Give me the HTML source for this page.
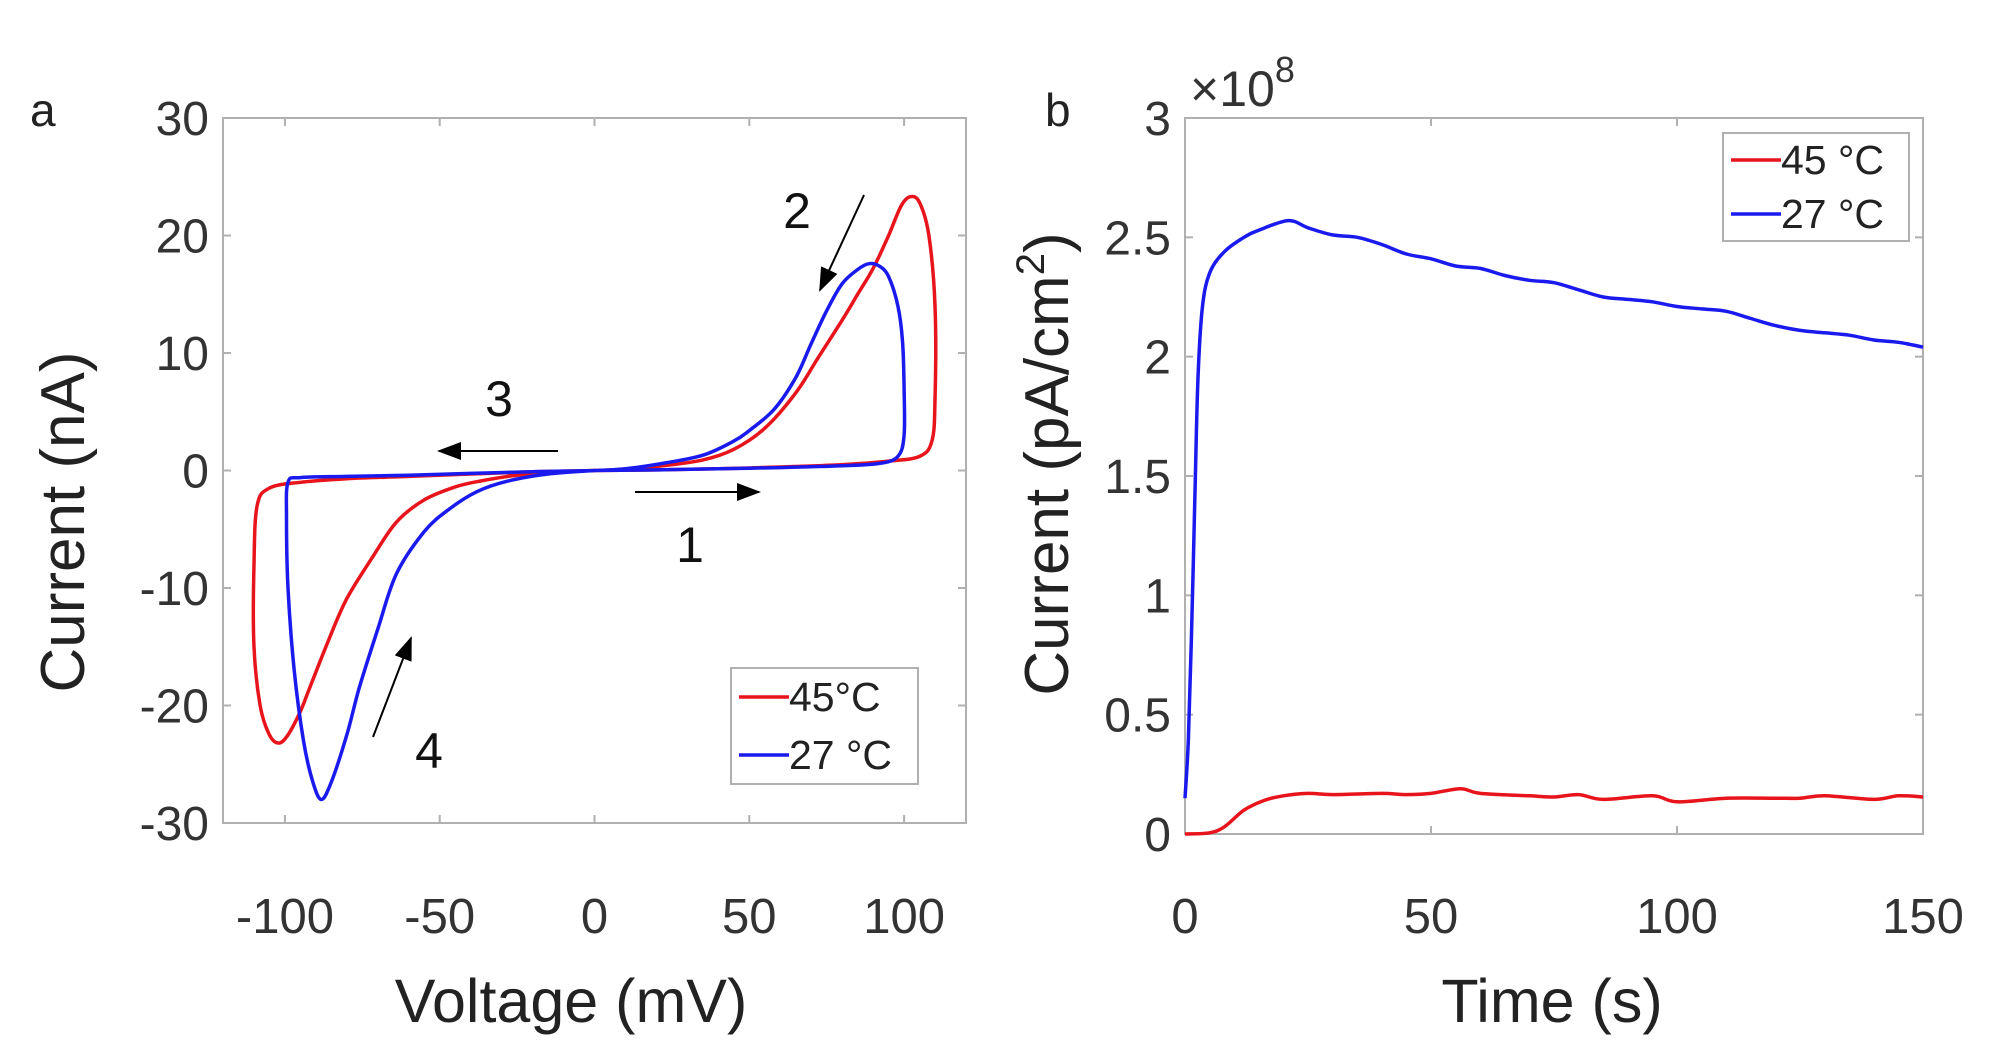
<!DOCTYPE html>
<html><head><meta charset="utf-8"><style>
html,body{margin:0;padding:0;background:#fff;}
svg{display:block;font-family:"Liberation Sans",sans-serif;}
</style></head><body>
<svg id="fig" width="2000" height="1049" viewBox="0 0 2000 1049" xmlns="http://www.w3.org/2000/svg">
<defs>
<marker id="ah2" markerWidth="24" markerHeight="18" refX="22" refY="9" orient="auto" markerUnits="userSpaceOnUse"><path d="M0,0 L24,9 L0,18 z" fill="#000"/></marker></defs>
<g id="pa"></g>
<g id="pb"></g>
</svg>
<script>
// Panel a: cyclic voltammetry
const cvTicksX=[-100,-50,0,50,100];
const cvTicksY=[-30,-20,-10,0,10,20,30];
const red45V=[0,20,40,60,80,95,105,109,110,110,108,105,102,99,95,90,85,80,72,65,55,45,35,22,10,0,-20,-40,-60,-80,-95,-105,-109,-110,-110,-108,-105,-102,-99,-95,-92,-86,-80,-72,-64,-55,-45,-37,-25,-10,0];
const red45I=[0,0.05,0.15,0.3,0.5,0.8,1.2,2.5,6,14,20,22.8,23.3,22.5,20,17.2,15,12.8,9.5,6.6,3.6,1.8,0.9,0.4,0.1,0,-0.1,-0.3,-0.5,-0.7,-1.0,-1.5,-3,-8,-15,-20,-22.5,-23.2,-22.5,-20.5,-18.5,-14.5,-10.9,-7.5,-4.4,-2.5,-1.4,-0.9,-0.4,-0.1,0];
const blue27V=[0,20,40,60,80,92,98,100,100,99.5,98,95,92,88.6,85,80,75,70,65,58,50,45,35,22,10,0,-20,-40,-60,-80,-95,-99,-99.5,-99,-97,-94,-91,-88.2,-85,-80,-76,-70,-64,-55,-47,-38,-28,-15,0];
const blue27I=[0,0.05,0.15,0.25,0.4,0.6,1.2,3,7,11,14,16.5,17.4,17.6,17.1,15.9,13.6,10.8,7.9,5.2,3.4,2.5,1.3,0.6,0.15,0,-0.1,-0.25,-0.4,-0.5,-0.6,-1,-4,-10,-17,-23,-26.5,-28,-26.5,-22.5,-18.5,-13.5,-8.8,-5.2,-3.3,-1.8,-0.9,-0.3,0];
// Panel b: current vs time
const tTicksX=[0,50,100,150];
const tTicksY=[0,0.5,1,1.5,2,2.5,3];
const tBlue=[0,0.7,1.3,2,2.6,3.5,5,8,12,15,21,25,30,35,40,45,50,55,60,65,70,75,80,85,90,95,100,105,110,115,120,125,130,135,140,145,150];
const iBlue=[0.15,0.4,0.82,1.4,1.89,2.2,2.35,2.44,2.5,2.53,2.57,2.54,2.51,2.5,2.47,2.43,2.41,2.38,2.37,2.34,2.32,2.31,2.28,2.25,2.24,2.23,2.21,2.2,2.19,2.16,2.13,2.11,2.1,2.09,2.07,2.06,2.04];
const tRed=[0,5,8,12,16,20,25,30,40,45,50,56,60,70,75,80,85,95,100,110,120,125,130,140,145,150];
const iRed=[0,0.005,0.03,0.1,0.14,0.16,0.17,0.165,0.17,0.165,0.17,0.19,0.17,0.16,0.155,0.165,0.145,0.16,0.135,0.15,0.15,0.15,0.16,0.145,0.16,0.155];

const NS="http://www.w3.org/2000/svg";
function mk(parent,tag,attrs,text){const e=document.createElementNS(NS,tag);for(const k in attrs)e.setAttribute(k,attrs[k]);if(text!==undefined)e.textContent=text;parent.appendChild(e);return e;}

function axes(g,L,R,T,B,xmin,xmax,ymin,ymax,xt,yt){
  const sx=v=>L+(v-xmin)/(xmax-xmin)*(R-L);
  const sy=v=>B-(v-ymin)/(ymax-ymin)*(B-T);
  const box=mk(g,'rect',{x:L,y:T,width:R-L,height:B-T,fill:'none',stroke:'#b0b0b0','stroke-width':2});
  
  
  xt.forEach(v=>{
    mk(g,'line',{x1:sx(v),x2:sx(v),y1:B,y2:B-8,stroke:'#b0b0b0','stroke-width':2});
    mk(g,'line',{x1:sx(v),x2:sx(v),y1:T,y2:T+8,stroke:'#b0b0b0','stroke-width':2});
    const t=mk(g,'text',{x:sx(v),y:933,'text-anchor':'middle','font-size':49,fill:'#333'},String(v));
    
    
  });
  yt.forEach(v=>{
    mk(g,'line',{x1:L,x2:L+8,y1:sy(v),y2:sy(v),stroke:'#b0b0b0','stroke-width':2});
    mk(g,'line',{x1:R,x2:R-8,y1:sy(v),y2:sy(v),stroke:'#b0b0b0','stroke-width':2});
    const t=mk(g,'text',{x:L-14,y:sy(v)+17,'text-anchor':'end','font-size':48,fill:'#333'},String(v));
    
    
  });
  return [sx,sy];
}
function line(g,xs,ys,sx,sy,color,name){
  const P=xs.map((x,i)=>[sx(x),sy(ys[i])]);
  let d='M'+P[0][0].toFixed(1)+','+P[0][1].toFixed(1);
  for(let i=0;i<P.length-1;i++){
    const p0=P[Math.max(0,i-1)],p1=P[i],p2=P[i+1],p3=P[Math.min(P.length-1,i+2)];
    const c1=[p1[0]+(p2[0]-p0[0])/6,p1[1]+(p2[1]-p0[1])/6];
    const c2=[p2[0]-(p3[0]-p1[0])/6,p2[1]-(p3[1]-p1[1])/6];
    d+=' C'+c1[0].toFixed(1)+','+c1[1].toFixed(1)+' '+c2[0].toFixed(1)+','+c2[1].toFixed(1)+' '+p2[0].toFixed(1)+','+p2[1].toFixed(1);
  }
  const p=mk(g,'path',{d:d,fill:'none',stroke:color,'stroke-width':3.5,'stroke-linejoin':'round'});
  
  
}
function legend(g,x,y,w,h,labels){
  const r=mk(g,'rect',{x:x,y:y,width:w,height:h,fill:'#fff',stroke:'#b0b0b0','stroke-width':2});
  
  
  labels.forEach((l,i)=>{
    const cy=y+h*(i*2+1)/4;
    mk(g,'line',{x1:x+8,x2:x+58,y1:cy,y2:cy,stroke:l[1],'stroke-width':3.5});
    const t=mk(g,'text',{x:x+58,y:cy+14,'font-size':41,fill:'#222'},l[0]);
    
    
  });
}
const ga=document.getElementById('pa');
const [ax,ay]=axes(ga,223,966,118,823,-120,120,-30,30,cvTicksX,cvTicksY);
line(ga,red45V,red45I,ax,ay,'#e8141b','cv-45c');
line(ga,blue27V,blue27I,ax,ay,'#1a1aee','cv-27c');
legend(ga,731,668,187,116,[['45°C','#e8141b'],['27 °C','#1a1aee']]);
let t=mk(ga,'text',{x:571,y:1022,'text-anchor':'middle','font-size':61,fill:'#222'},'Voltage (mV)');

t=mk(ga,'text',{x:0,y:0,'text-anchor':'middle','font-size':62,fill:'#222',transform:'translate(84,522) rotate(-90)'},'Current (nA)');

t=mk(ga,'text',{x:30,y:126,'font-size':46,fill:'#222'},'a');

[['2',797,228,864,195,820,290],['3',499,416,558,451,439,451],['1',690,562,635,492,759,492],['4',429,768,373,737,411,638]].forEach(a=>{
  const tx=mk(ga,'text',{x:a[1],y:a[2],'text-anchor':'middle','font-size':50,fill:'#111'},a[0]);
  
  const ln=mk(ga,'line',{x1:a[3],y1:a[4],x2:a[5],y2:a[6],stroke:'#000','stroke-width':2,'marker-end':'url(#ah2)'});
  
});

const gb=document.getElementById('pb');
const [bx,by]=axes(gb,1185,1923,118,834,0,150,0,3,tTicksX,tTicksY);
line(gb,tRed,iRed,bx,by,'#e8141b','current-45c');
line(gb,tBlue,iBlue,bx,by,'#1a1aee','current-27c');
legend(gb,1723,133,186,108,[['45 °C','#e8141b'],['27 °C','#1a1aee']]);
t=mk(gb,'text',{x:1552,y:1022,'text-anchor':'middle','font-size':61,fill:'#222'},'Time (s)');

t=mk(gb,'text',{x:0,y:0,'text-anchor':'middle','font-size':62,fill:'#222',transform:'translate(1068,464) rotate(-90)'});

t.appendChild(document.createTextNode('Current (pA/cm'));
mk(t,'tspan',{'font-size':40,dy:-24},'2');
mk(t,'tspan',{dy:24},')');
t=mk(gb,'text',{x:1190,y:106,'font-size':50,fill:'#333'},'×10');

mk(t,'tspan',{'font-size':36,dy:-24},'8');
t=mk(gb,'text',{x:1045,y:126,'font-size':46,fill:'#222'},'b');

</script>
</body></html>
